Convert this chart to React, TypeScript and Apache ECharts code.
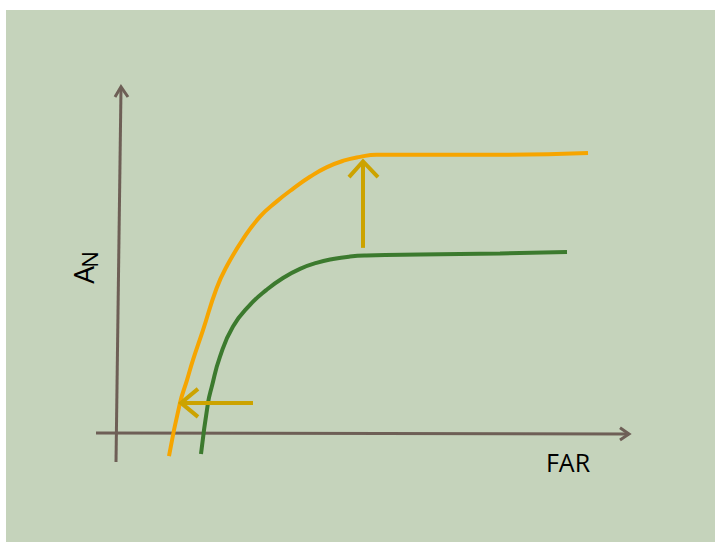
import React, { useEffect, useRef } from "react";
import * as echarts from "echarts";

// FAR (x) vs A_N (y) in arbitrary units; origin where the axes cross
const orangeCurve: [number, number][] = [
  [1.04, -0.66], [1.26, 0.86], [1.4, 1.51], [1.52, 2.09], [1.72, 2.94],
  [1.99, 4.13], [2.19, 4.75], [2.53, 5.56], [2.86, 6.18], [3.19, 6.61],
  [3.53, 6.99], [3.86, 7.32], [4.19, 7.59], [4.53, 7.78], [4.86, 7.89],
  [5.19, 7.95], [6.06, 7.95], [7.66, 7.95], [9.42, 8.0],
];
const greenCurve: [number, number][] = [
  [1.68, -0.6], [1.82, 0.86], [1.89, 1.29], [2.06, 2.18], [2.32, 3.04],
  [2.66, 3.66], [2.99, 4.09], [3.32, 4.43], [3.66, 4.69], [3.99, 4.86],
  [4.32, 4.97], [4.66, 5.04], [4.99, 5.07], [6.06, 5.1], [7.66, 5.13],
  [9.0, 5.17],
];
const yAxisLine: [number, number][] = [[-0.02, -0.83], [0.08, 9.86]];
const yAxisHead: [number, number][] = [[-0.04, 9.6], [0.08, 9.89], [0.22, 9.6]];
const xAxisLine: [number, number][] = [[-0.42, 0], [10.24, -0.03]];
const xAxisHead: [number, number][] = [[10.06, 0.15], [10.24, -0.03], [10.06, -0.2]];
const upArrowShaft: [number, number][] = [[4.92, 5.29], [4.92, 7.74]];
const upArrowHead: [number, number][] = [[4.64, 7.31], [4.92, 7.76], [5.22, 7.31]];
const leftArrowShaft: [number, number][] = [[2.72, 0.86], [1.3, 0.86]];
const leftArrowHead: [number, number][] = [[1.62, 1.26], [1.28, 0.86], [1.62, 0.46]];

const xLabel = "FAR";
const yLabelMain = "A";
const yLabelSub = "N";

const COLORS = {
  bg: "#c5d3bb",
  axis: "#6e5f56",
  orange: "#f6a500",
  green: "#3c7a2e",
  gold: "#cca300",
};

function lineSeries(data: [number, number][], color: string, width: number, z = 2) {
  return {
    type: "line",
    data,
    symbol: "none",
    smooth: false,
    z,
    lineStyle: { color, width, cap: "butt", join: "miter" },
    silent: true,
  };
}

function curveSeries(data: [number, number][], color: string) {
  return {
    type: "line",
    data,
    symbol: "none",
    smooth: 0.5,
    z: 3,
    lineStyle: { color, width: 4, cap: "butt" },
    silent: true,
  };
}

export default function App() {
  const ref = useRef<HTMLDivElement>(null);
  useEffect(() => {
    if (!ref.current) return;
    const chart = echarts.init(ref.current, null, { renderer: "svg" });
    chart.setOption({
      animation: false,
      grid: { left: 67, top: 48, width: 600, height: 420 },
      xAxis: { type: "value", min: -1, max: 11, show: false },
      yAxis: { type: "value", min: -1, max: 11, show: false },
      graphic: [
        {
          type: "rect",
          z: -10,
          shape: { x: 6, y: 10, width: 709, height: 532 },
          style: { fill: COLORS.bg },
          silent: true,
        },
        {
          type: "text",
          x: 83,
          y: 275,
          rotation: Math.PI / 2,
          style: {
            text: yLabelMain,
            font: '28px "Open Sans"',
            fill: "#000",
            textAlign: "center",
            textVerticalAlign: "middle",
          },
        },
        {
          type: "text",
          x: 89,
          y: 259.5,
          rotation: Math.PI / 2,
          style: {
            text: yLabelSub,
            font: '22px "Open Sans"',
            fill: "#000",
            textAlign: "center",
            textVerticalAlign: "middle",
          },
        },
        {
          type: "text",
          x: 568,
          y: 462,
          style: {
            text: xLabel,
            font: '25px "Open Sans"',
            fill: "#000",
            textAlign: "center",
            textVerticalAlign: "middle",
          },
        },
      ],
      series: [
        lineSeries(yAxisLine, COLORS.axis, 3),
        lineSeries(yAxisHead, COLORS.axis, 3),
        lineSeries(xAxisLine, COLORS.axis, 3),
        lineSeries(xAxisHead, COLORS.axis, 3),
        curveSeries(orangeCurve, COLORS.orange),
        curveSeries(greenCurve, COLORS.green),
        lineSeries(upArrowShaft, COLORS.gold, 4, 4),
        lineSeries(upArrowHead, COLORS.gold, 4, 4),
        lineSeries(leftArrowShaft, COLORS.gold, 4, 4),
        lineSeries(leftArrowHead, COLORS.gold, 4, 4),
      ],
    });
    return () => chart.dispose();
  }, []);
  return (
    <div
      ref={ref}
      style={{ position: "absolute", left: 0, top: 0, width: 718, height: 542 }}
    />
  );
}
